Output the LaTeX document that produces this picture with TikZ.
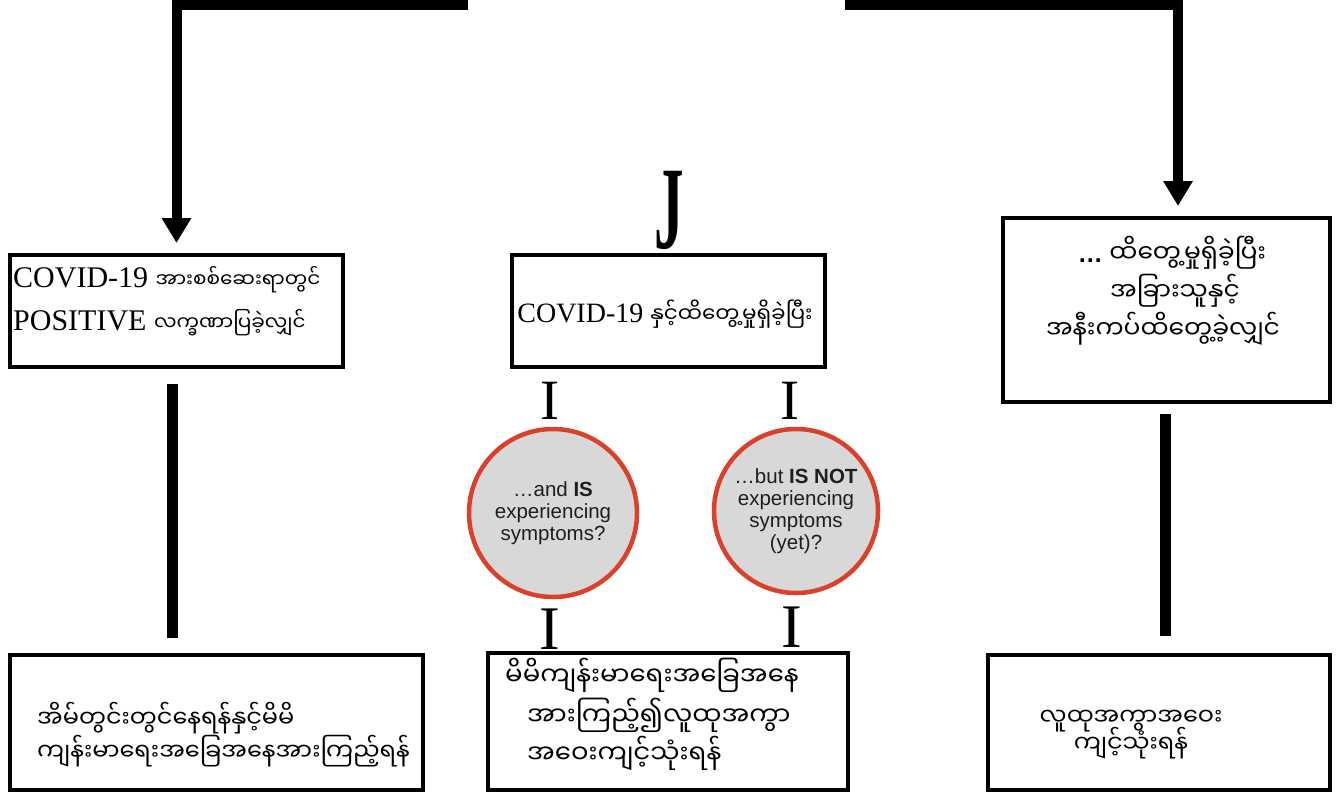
\documentclass[tikz,border=0pt]{standalone}
\usepackage{fontspec}
\setmainfont{Liberation Serif}
\newfontfamily\mmfont[Script=Myanmar]{Noto Sans Myanmar UI}
\newfontfamily\hvfont{Liberation Sans}
\usetikzlibrary{arrows.meta}
\definecolor{ringred}{HTML}{D9412B}
\definecolor{discgray}{HTML}{D8D8D8}
\definecolor{inkgray}{HTML}{1E1E1E}
\begin{document}
\begin{tikzpicture}[x=1pt,y=-1pt,
 box/.style={draw=black, line width=4pt, inner sep=0pt},
 bar/.style={line width=11pt},
 flow/.style={line width=10pt, line join=miter, -{Triangle[width=28pt,length=25pt]}},
 disc/.style={circle, draw=ringred, fill=discgray, line width=4.5pt, inner sep=0pt, align=center, font=\hvfont\fontsize{20.5}{22}\selectfont, text=inkgray},
 glyph/.style={inner sep=0pt, font=\fontsize{57}{57}\selectfont},
 lat/.style={inner sep=0pt},
 mmtext/.style={inner sep=0pt, font=\mmfont\fontsize{24}{24}\selectfont},
]
\useasboundingbox (0,0) rectangle (1343,793);

% boxes
\node[box, minimum width=333pt, minimum height=112pt] (b1) at (176.5,311) {};
\node[box, minimum width=313pt, minimum height=112pt] (b2) at (668.5,311) {};
\node[box, minimum width=327pt, minimum height=184pt] (b3) at (1166.5,310) {};
\node[box, minimum width=413pt, minimum height=135pt] (b4) at (216.5,722.5) {};
\node[box, minimum width=360pt, minimum height=137pt] (b5) at (668,721.5) {};
\node[box, minimum width=342pt, minimum height=135pt] (b6) at (1159,722.5) {};

% box texts
\node[lat, anchor=base west, font=\fontsize{30}{30}\selectfont] (t1a) at (13,287) {COVID-19 {\mmfont\fontsize{20}{20}\selectfont အားစစ်ဆေးရာတွင်}};
\node[lat, anchor=base west, font=\fontsize{30}{30}\selectfont] (t1b) at (13,330) {POSITIVE {\mmfont\fontsize{20}{20}\selectfont လက္ခဏာပြခဲ့လျှင်}};
\node[lat, anchor=base, font=\fontsize{28}{28}\selectfont] (t2) at (665,322) {COVID-19 {\mmfont\fontsize{21.5}{21.5}\selectfont နှင့်ထိတွေ့မှုရှိခဲ့ပြီး}};
\node[mmtext, anchor=base, font=\mmfont\fontsize{25}{25}\selectfont] (t3a) at (1172,262) {{\hvfont\bfseries …} ထိတွေ့မှုရှိခဲ့ပြီး};
\node[mmtext, anchor=base, font=\mmfont\fontsize{25}{25}\selectfont] (t3b) at (1175,300) {အခြားသူနှင့်};
\node[mmtext, anchor=base, font=\mmfont\fontsize{25}{25}\selectfont] (t3c) at (1163,338) {အနီးကပ်ထိတွေ့ခဲ့လျှင်};
\node[mmtext, anchor=base west] (t4a) at (37,727) {အိမ်တွင်းတွင်နေရန်နှင့်မိမိ};
\node[mmtext, anchor=base west] (t4b) at (37,760) {ကျန်းမာရေးအခြေအနေအားကြည့်ရန်};
\node[mmtext, anchor=base west, font=\mmfont\fontsize{26}{26}\selectfont] (t5a) at (505,685) {မိမိကျန်းမာရေးအခြေအနေ};
\node[mmtext, anchor=base west, font=\mmfont\fontsize{26}{26}\selectfont] (t5b) at (527,725) {အားကြည့်၍လူထုအကွာ};
\node[mmtext, anchor=base west, font=\mmfont\fontsize{26}{26}\selectfont] (t5c) at (527,763) {အဝေးကျင့်သုံးရန်};
\node[mmtext, anchor=base] (t6a) at (1131,725) {လူထုအကွာအဝေး};
\node[mmtext, anchor=base] (t6b) at (1131,752) {ကျင့်သုံးရန်};

% discs
\node[disc, minimum size=168pt] (c1) at (553,513) {…and \textbf{IS}\\experiencing\\symptoms?};
\node[disc, minimum size=164pt] (c2) at (796,511) {…but \textbf{IS NOT}\\experiencing\\symptoms\\(yet)?};

% glyph connectors
\node[inner sep=0pt, font=\bfseries\fontsize{118}{118}\selectfont] (j) at (669,210) {\scalebox{0.5}[1]{J}};
\node[glyph] (i1) at (550,401) {I};
\node[glyph] (i2) at (790,401) {I};
\node[glyph, font=\fontsize{62}{62}\selectfont] (i3) at (550,629) {I};
\node[glyph, font=\fontsize{62}{62}\selectfont] (i4) at (792,627) {I};

% arrows
\coordinate (tl) at (468,5);
\coordinate (tr) at (845,5);
\draw[flow, shorten >=10pt] (tl) -| (b1.north);
\draw[flow, shorten >=10pt] (tr) -| ([xshift=11.5pt]b3.north);

% bars
\draw[bar, shorten <=15pt, shorten >=15pt] ([xshift=-4.5pt]b1.south) -- ([xshift=-4.5pt]b1.south |- b4.north);
\draw[bar, shorten <=10pt, shorten >=17pt] ([xshift=-1.5pt]b3.south) -- ([xshift=-1.5pt]b3.south |- b6.north);
\end{tikzpicture}
\end{document}
